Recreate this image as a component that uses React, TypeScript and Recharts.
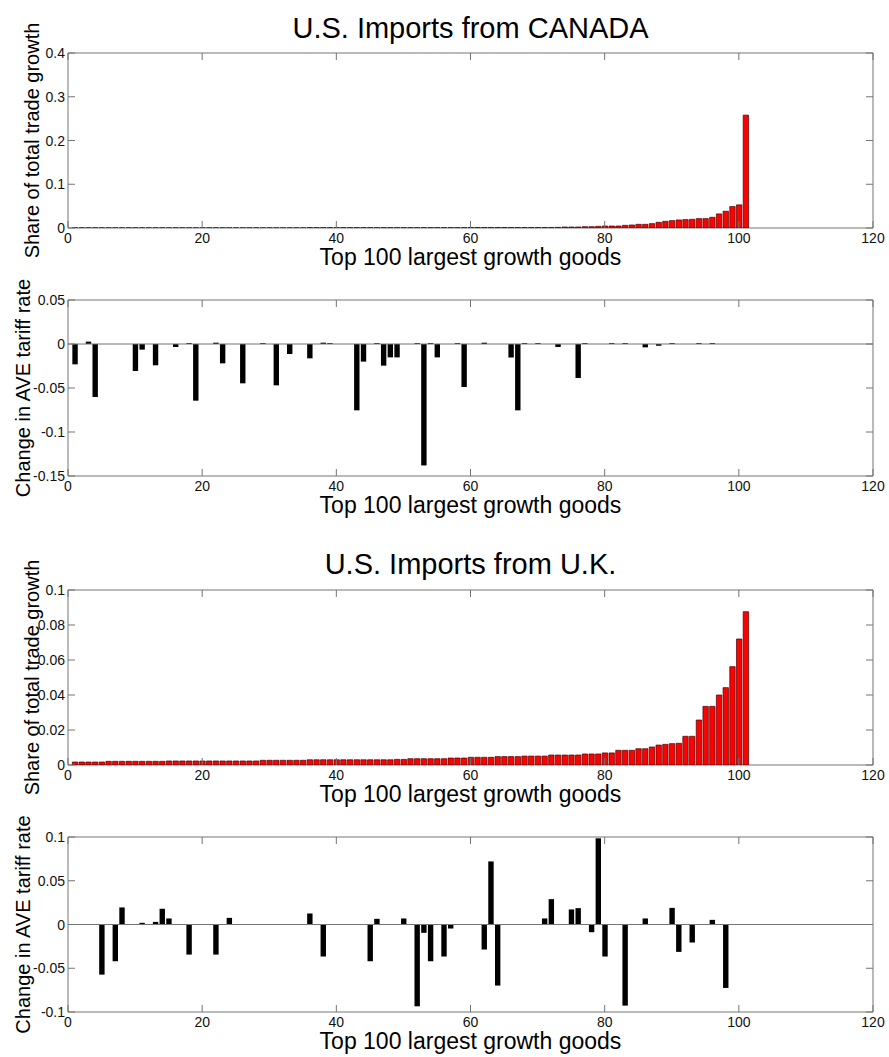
import React from 'react';
import { BarChart, Bar, XAxis, YAxis, ReferenceLine, ReferenceArea } from 'recharts';

// ---------- data ----------
const goods = [
  1, 2, 3, 4, 5, 6, 7, 8, 9, 10, 11, 12, 13, 14, 15, 16, 17, 18, 19, 20,
  21, 22, 23, 24, 25, 26, 27, 28, 29, 30, 31, 32, 33, 34, 35, 36, 37, 38, 39, 40,
  41, 42, 43, 44, 45, 46, 47, 48, 49, 50, 51, 52, 53, 54, 55, 56, 57, 58, 59, 60,
  61, 62, 63, 64, 65, 66, 67, 68, 69, 70, 71, 72, 73, 74, 75, 76, 77, 78, 79, 80,
  81, 82, 83, 84, 85, 86, 87, 88, 89, 90, 91, 92, 93, 94, 95, 96, 97, 98, 99, 100,
  101,
];

const xTicks = [0, 20, 40, 60, 80, 100, 120];

const canadaShare = [
  0.0004, 0.0004, 0.0004, 0.0004, 0.0004, 0.0004, 0.0004, 0.0004, 0.0004, 0.0004,
  0.0004, 0.0004, 0.0004, 0.0004, 0.0004, 0.0004, 0.0004, 0.0004, 0.0004, 0.0004,
  0.0004, 0.0004, 0.0004, 0.0004, 0.0004, 0.0004, 0.0004, 0.0004, 0.0004, 0.0004,
  0.0004, 0.0004, 0.0004, 0.0004, 0.0004, 0.0008, 0.0008, 0.0008, 0.0008, 0.0008,
  0.0008, 0.0008, 0.0008, 0.0008, 0.0008, 0.0008, 0.0008, 0.0008, 0.0008, 0.0008,
  0.0008, 0.0008, 0.0008, 0.0008, 0.0008, 0.0008, 0.0008, 0.0008, 0.0008, 0.0012,
  0.0012, 0.0012, 0.0012, 0.0012, 0.0012, 0.0012, 0.0012, 0.0012, 0.0012, 0.0012,
  0.0012, 0.0012, 0.0015, 0.0023, 0.0023, 0.0023, 0.003, 0.003, 0.0038, 0.0046,
  0.0046, 0.0046, 0.0061, 0.0069, 0.0084, 0.0084, 0.01, 0.013, 0.0153, 0.0169,
  0.0184, 0.0192, 0.0199, 0.0215, 0.0215, 0.0245, 0.0322, 0.0383, 0.049, 0.0529,
  0.258,
];

const canadaTariff = [
  -0.0231, 0, 0.0027, -0.0602, 0, 0, 0, 0, 0, -0.0307,
  -0.0064, 0, -0.0242, 0, 0, -0.0034, 0, 0.001, -0.0644, 0,
  0, 0.0015, -0.022, 0, 0, -0.0447, 0, 0, 0.001, 0,
  -0.047, 0, -0.0114, 0, 0, -0.0163, 0, 0.0015, 0.001, 0,
  0, 0, -0.0754, -0.02, 0, 0.001, -0.0246, -0.0152, -0.0152, 0,
  0, 0.001, -0.138, 0.001, -0.0152, 0, 0, 0.001, -0.0489, 0,
  0, 0.0015, 0, 0, 0, -0.0152, -0.0754, 0.001, 0, 0.001,
  0, 0, -0.0034, 0, 0, -0.0386, 0.001, 0, 0, 0,
  0.001, 0, 0.001, 0, 0, -0.0038, 0, -0.002, 0, 0.001,
  0, 0, 0, 0.001, 0, 0.001, 0, 0, 0, 0,
  0,
];

const ukShare = [
  0.0017, 0.0017, 0.0017, 0.0017, 0.0017, 0.0021, 0.0021, 0.0021, 0.0021, 0.0021,
  0.0021, 0.0021, 0.0021, 0.0021, 0.0023, 0.0023, 0.0023, 0.0023, 0.0023, 0.0023,
  0.0023, 0.0023, 0.0023, 0.0023, 0.0023, 0.0023, 0.0023, 0.0023, 0.0027, 0.0027,
  0.0027, 0.0027, 0.0027, 0.0027, 0.0027, 0.003, 0.003, 0.003, 0.003, 0.003,
  0.003, 0.003, 0.003, 0.003, 0.003, 0.003, 0.003, 0.003, 0.0032, 0.0032,
  0.0036, 0.0036, 0.0036, 0.0036, 0.0036, 0.0036, 0.004, 0.004, 0.004, 0.0044,
  0.0044, 0.0044, 0.0044, 0.0048, 0.0048, 0.0048, 0.0048, 0.0051, 0.0051, 0.0051,
  0.0051, 0.0057, 0.0057, 0.0057, 0.0057, 0.0057, 0.0063, 0.0063, 0.0063, 0.0069,
  0.0069, 0.0084, 0.0084, 0.0084, 0.0093, 0.0093, 0.0103, 0.0114, 0.0118, 0.0122,
  0.0124, 0.0164, 0.0164, 0.0257, 0.0335, 0.0335, 0.04, 0.0442, 0.0562, 0.072,
  0.0876,
];

const ukTariff = [
  0, 0, 0, 0, -0.0573, 0, -0.042, 0.0195, 0, 0,
  0.0019, 0, 0.003, 0.018, 0.0069, 0, 0, -0.0344, 0, 0,
  0, -0.0344, 0, 0.0076, 0, 0, 0, 0, 0, 0,
  0, 0, 0.0004, 0, 0, 0.0126, 0, -0.0366, 0, 0,
  0, 0, 0, 0, -0.042, 0.0065, 0, 0, 0, 0.0069,
  0, -0.0935, -0.0095, -0.042, 0, -0.0366, -0.0046, 0, 0, 0,
  0, -0.0286, 0.0721, -0.0698, 0, 0, 0, 0, 0, 0,
  0.0069, 0.029, 0, 0, 0.0172, 0.0187, 0, -0.0088, 0.0985, -0.0366,
  0, 0, -0.0927, 0, 0, 0.0069, 0, 0, 0, 0.019,
  -0.0313, 0, -0.0206, 0, 0, 0.0053, 0, -0.0725, 0, 0,
  0,
];

const shareTicksCanada = [0, 0.1, 0.2, 0.3, 0.4];
const tariffTicksCanada = [-0.15, -0.1, -0.05, 0, 0.05];
const shareTicksUK = [0, 0.02, 0.04, 0.06, 0.08, 0.1];
const tariffTicksUK = [-0.1, -0.05, 0, 0.05, 0.1];

const titleCanada = 'U.S. Imports from CANADA';
const titleUK = 'U.S. Imports from U.K.';
const xLabel = 'Top 100 largest growth goods';
const shareLabel = 'Share of total trade growth';
const tariffLabel = 'Change in AVE tariff rate';

// ---------- layout ----------
const FONT = '"Liberation Sans", Arial, Helvetica, sans-serif';
const AXIS = '#747474';
const PLOT_LEFT = 68;
const PLOT_RIGHT = 873;
const MARGIN_TOP = 53;
const X_AXIS_H = 45;
const TICK_LEN = 7;

type PanelProps = {
  top: number;
  plotH: number;
  values: number[];
  color: string;
  edge: string;
  yDomain: [number, number];
  yTicks: number[];
  yLabel: string;
  yLabelOffset: number;
  zeroLine: boolean;
};

function Panel({ top, plotH, values, color, edge, yDomain, yTicks, yLabel, yLabelOffset, zeroLine }: PanelProps) {
  const data = goods.map((g, i) => ({ good: g, v: values[i] }));
  const plotBottom = MARGIN_TOP + plotH;

  const renderXTick = (props: any) => {
    const { x, payload } = props;
    return (
      <g>
        <line x1={x} x2={x} y1={plotBottom} y2={plotBottom - TICK_LEN} stroke={AXIS} strokeWidth={1} />
        <line x1={x} x2={x} y1={MARGIN_TOP} y2={MARGIN_TOP + TICK_LEN} stroke={AXIS} strokeWidth={1} />
        <text x={x} y={plotBottom + 15} textAnchor="middle" fontSize={14} fontFamily={FONT} fill="#111">
          {String(payload.value)}
        </text>
      </g>
    );
  };

  const renderYTick = (props: any) => {
    const { y, payload } = props;
    const v = Number(payload.value);
    const txt = v < 0 ? '-' + String(Math.abs(v)) : String(v);
    return (
      <g>
        <line x1={PLOT_LEFT} x2={PLOT_LEFT + TICK_LEN} y1={y} y2={y} stroke={AXIS} strokeWidth={1} />
        <line x1={PLOT_RIGHT} x2={PLOT_RIGHT - TICK_LEN} y1={y} y2={y} stroke={AXIS} strokeWidth={1} />
        <text x={PLOT_LEFT - 3} y={y} dy="0.36em" textAnchor="end" fontSize={14} fontFamily={FONT} fill="#111">
          {txt}
        </text>
      </g>
    );
  };

  return (
    <div style={{ position: 'absolute', left: 0, top }}>
      <BarChart
        width={889}
        height={MARGIN_TOP + plotH + X_AXIS_H}
        data={data}
        margin={{ top: MARGIN_TOP, right: 889 - PLOT_RIGHT, bottom: 0, left: 8 }}
      >
        <XAxis
          dataKey="good"
          type="number"
          domain={[0, 120]}
          ticks={xTicks}
          interval={0}
          allowDataOverflow
          tick={renderXTick}
          tickLine={false}
          axisLine={false}
          height={X_AXIS_H}
          label={{
            value: xLabel,
            position: 'insideBottom',
            offset: 8,
            fontSize: 23,
            fontFamily: FONT,
            fill: '#000',
          }}
        />
        <YAxis
          type="number"
          domain={yDomain}
          ticks={yTicks}
          interval={0}
          allowDataOverflow
          tick={renderYTick}
          tickLine={false}
          axisLine={false}
          width={PLOT_LEFT - 8}
          label={{
            value: yLabel,
            angle: -90,
            position: 'insideLeft',
            offset: yLabelOffset,
            fontSize: 20,
            fontFamily: FONT,
            fill: '#000',
            style: { textAnchor: 'middle' },
          }}
        />
        <ReferenceArea
          x1={0}
          x2={120}
          y1={yDomain[0]}
          y2={yDomain[1]}
          fill="none"
          fillOpacity={0}
          stroke={AXIS}
          strokeWidth={1}
          ifOverflow="visible"
        />
        {zeroLine && <ReferenceLine y={0} stroke={AXIS} strokeWidth={1} />}
        <Bar
          dataKey="v"
          fill={color}
          stroke={edge}
          strokeWidth={edge === 'none' ? 0 : 0.7}
          barSize={5.4}
          isAnimationActive={false}
        />
      </BarChart>
    </div>
  );
}

const titleStyle = (top: number): React.CSSProperties => ({
  position: 'absolute',
  left: PLOT_LEFT,
  width: PLOT_RIGHT - PLOT_LEFT,
  top,
  textAlign: 'center',
  fontFamily: FONT,
  fontSize: 29,
  lineHeight: '29px',
  color: '#000',
  whiteSpace: 'nowrap',
});

export default function App() {
  return (
    <div style={{ position: 'absolute', left: 0, top: 0, width: 889, height: 1057, background: '#fff', overflow: 'hidden' }}>
      <div style={titleStyle(14)}>{titleCanada}</div>
      <Panel
        top={53 - MARGIN_TOP}
        plotH={175}
        values={canadaShare}
        color="#ff0000"
        edge="#4a0000"
        yDomain={[0, 0.4]}
        yTicks={shareTicksCanada}
        yLabel={shareLabel}
        yLabelOffset={24}
        zeroLine={false}
      />
      <Panel
        top={300 - MARGIN_TOP}
        plotH={176}
        values={canadaTariff}
        color="#000000"
        edge="none"
        yDomain={[-0.15, 0.05]}
        yTicks={tariffTicksCanada}
        yLabel={tariffLabel}
        yLabelOffset={15}
        zeroLine={true}
      />
      <div style={titleStyle(550)}>{titleUK}</div>
      <Panel
        top={590 - MARGIN_TOP}
        plotH={175}
        values={ukShare}
        color="#ff0000"
        edge="#4a0000"
        yDomain={[0, 0.1]}
        yTicks={shareTicksUK}
        yLabel={shareLabel}
        yLabelOffset={24}
        zeroLine={false}
      />
      <Panel
        top={837 - MARGIN_TOP}
        plotH={175}
        values={ukTariff}
        color="#000000"
        edge="none"
        yDomain={[-0.1, 0.1]}
        yTicks={tariffTicksUK}
        yLabel={tariffLabel}
        yLabelOffset={15}
        zeroLine={true}
      />
    </div>
  );
}
